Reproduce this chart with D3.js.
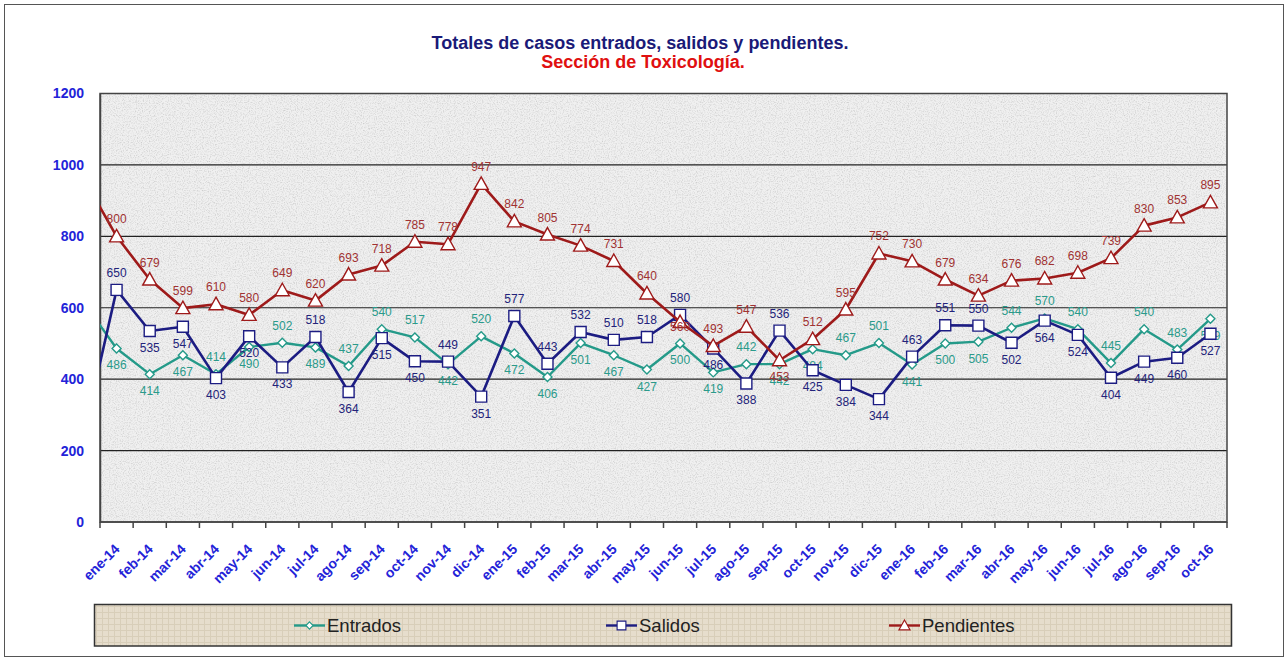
<!doctype html>
<html>
<head>
<meta charset="utf-8">
<style>
    body { margin: 0; background: #fff; }
    text { font-family: "Liberation Sans", Arial, sans-serif; }
    .ylab, .xlab { fill: #2323d8; font-weight: bold; }
</style>
<script src="https://d3js.org/d3.v7.min.js"></script>
</head>
<body>
<svg width="1286" height="661"></svg>
<script>
// months shown on the axis; "dic-13" is the lead-in point that is cut by the plot edge
var leadMonth = "dic-13";
var months = ["ene-14","feb-14","mar-14","abr-14","may-14","jun-14","jul-14","ago-14","sep-14","oct-14","nov-14","dic-14",
              "ene-15","feb-15","mar-15","abr-15","may-15","jun-15","jul-15","ago-15","sep-15","oct-15","nov-15","dic-15",
              "ene-16","feb-16","mar-16","abr-16","may-16","jun-16","jul-16","ago-16","sep-16","oct-16"];

// first value of each series belongs to dic-13
var entrados = [616, 486,414,467,414,490,502,489,437,540,517,442,520,
                472,406,501,467,427,500,419,442,442,484,467,501,
                441,500,505,544,570,540,445,540,483,569];
var salidos = [240, 650,535,547,403,520,433,518,364,515,450,449,351,
               577,443,532,510,518,580,486,388,536,425,384,344,
               463,551,550,502,564,524,404,449,460,527];
var pendientes = [964, 800,679,599,610,580,649,620,693,718,785,778,947,
                  842,805,774,731,640,560,493,547,453,512,595,752,
                  730,679,634,676,682,698,739,830,853,895];

var yTicks = [0, 200, 400, 600, 800, 1000, 1200];

// label side for each visible point: 1 = above, -1 = below
var sideEntrados = [-1,-1,-1,1,-1,1,-1,1,1,1,-1,1, -1,-1,-1,-1,-1,-1,-1,1,-1,-1,1,1, -1,-1,-1,1,1,1,1,1,1,-1];
var sideSalidos  = [1,-1,-1,-1,-1,-1,1,-1,-1,-1,1,-1, 1,1,1,1,1,1,-1,-1,1,-1,-1,-1, 1,1,1,-1,-1,-1,-1,-1,-1,-1];
var sidePend     = [1,1,1,1,1,1,1,1,1,1,1,1, 1,1,1,1,1,-0.3,1,1,-1,1,1,1, 1,1,1,1,1,1,1,1,1,1];

var svg = d3.select("svg");
var pLeft = 100, pRight = 1227, pTop = 93.5, pBottom = 522;

var defs = svg.append("defs");
// granite look for the plot area
var f1 = defs.append("filter").attr("id", "granite").attr("x", 0).attr("y", 0).attr("width", 1).attr("height", 1);
f1.append("feTurbulence").attr("type", "fractalNoise").attr("baseFrequency", 0.85).attr("numOctaves", 2).attr("seed", 3).attr("result", "n");
f1.append("feColorMatrix").attr("type", "matrix")
  .attr("values", "0 0 0 0 0.62  0 0 0 0 0.62  0 0 0 0 0.62  0 0 0 -2.2 1.25").attr("result", "g");
f1.append("feComposite").attr("in", "g").attr("in2", "SourceGraphic").attr("operator", "atop");
// canvas look for the legend
var pat = defs.append("pattern").attr("id", "canvas").attr("patternUnits", "userSpaceOnUse").attr("width", 6).attr("height", 6);
pat.append("rect").attr("width", 6).attr("height", 6).attr("fill", "#e6ddcc");
pat.append("path").attr("d", "M0 0.5H6M0.5 0V6").attr("stroke", "#d8ceb9").attr("stroke-width", 1);
defs.append("clipPath").attr("id", "plotclip").append("rect")
    .attr("x", pLeft).attr("y", pTop - 20).attr("width", pRight - pLeft).attr("height", pBottom - pTop + 40);

// outer frame
svg.append("rect").attr("x", 4.5).attr("y", 4.5).attr("width", 1279).attr("height", 652)
   .attr("fill", "#fff").attr("stroke", "#555").attr("stroke-width", 1);

// titles
svg.append("text").attr("x", 640).attr("y", 49).attr("text-anchor", "middle")
   .attr("font-size", 18).attr("font-weight", "bold").attr("fill", "#1a1a78")
   .text("Totales de casos entrados, salidos y pendientes.");
svg.append("text").attr("x", 643).attr("y", 68).attr("text-anchor", "middle")
   .attr("font-size", 18).attr("font-weight", "bold").attr("fill", "#e01010")
   .text("Sección de Toxicología.");

var x = d3.scaleBand().domain(months).range([pLeft, pRight]);
var y = d3.scaleLinear().domain([0, 1200]).range([pBottom, pTop]);
var step = x.step();
function xAt(i) {
    // i = index into the series arrays (0 is the lead-in month)
    if (i === 0) return x(months[0]) + step / 2 - step;
    return x(months[i - 1]) + step / 2;
}

// plot background
svg.append("rect").attr("x", pLeft).attr("y", pTop).attr("width", pRight - pLeft).attr("height", pBottom - pTop)
   .attr("fill", "#f0f0f0").attr("filter", "url(#granite)");

// gridlines
svg.append("g").selectAll("line").data(yTicks.filter(function(d) { return d > 0; })).enter().append("line")
   .attr("x1", pLeft).attr("x2", pRight)
   .attr("y1", function(d) { return y(d); }).attr("y2", function(d) { return y(d); })
   .attr("stroke", "#222").attr("stroke-width", 1.2);

svg.append("rect").attr("x", pLeft).attr("y", pTop).attr("width", pRight - pLeft).attr("height", pBottom - pTop)
   .attr("fill", "none").attr("stroke", "#444").attr("stroke-width", 1.5);

// y axis
var yAxis = svg.append("g").attr("transform", "translate(" + pLeft + ",0)")
   .call(d3.axisLeft(y).tickValues(yTicks).tickFormat(d3.format("d")).tickSize(0).tickPadding(16));
yAxis.select(".domain").attr("stroke", "#444").attr("stroke-width", 1.5);
yAxis.selectAll("text").attr("class", "ylab").attr("font-size", 14).attr("font-family", "Liberation Sans, Arial, sans-serif");

// x axis ticks at category boundaries
var bounds = months.map(function(m) { return x(m); }).concat([pRight]);
svg.append("g").selectAll("line").data(bounds).enter().append("line")
   .attr("x1", function(d) { return d; }).attr("x2", function(d) { return d; })
   .attr("y1", pBottom).attr("y2", pBottom + 6).attr("stroke", "#444").attr("stroke-width", 1.5);
svg.append("line").attr("x1", pLeft).attr("x2", pRight).attr("y1", pBottom).attr("y2", pBottom)
   .attr("stroke", "#444").attr("stroke-width", 1.5);
svg.append("g").selectAll("text").data(months).enter().append("text")
   .attr("class", "xlab").attr("font-size", 14).attr("text-anchor", "end")
   .attr("transform", function(d) { return "translate(" + (x(d) + step / 2 + 4) + "," + (pBottom + 28) + ") rotate(-45)"; })
   .text(function(d) { return d; });

var series = [
    { name: "Entrados", values: entrados, side: sideEntrados, color: "#249a89", label: "#2a9a8a", marker: "diamond", width: 2.4 },
    { name: "Salidos", values: salidos, side: sideSalidos, color: "#1c1c82", label: "#23237a", marker: "square", width: 2.6 },
    { name: "Pendientes", values: pendientes, side: sidePend, color: "#9e1a1a", label: "#a03232", marker: "triangle", width: 2.6 }
];

function markerPath(type) {
    if (type === "square") return "M-5.5,-5.5H5.5V5.5H-5.5Z";
    if (type === "triangle") return "M0,-7L7,5.5H-7Z";
    return "M0,-4.5L4.5,0L0,4.5L-4.5,0Z";
}

var line = d3.line().x(function(d, i) { return xAt(i); }).y(function(d) { return y(d); });

series.forEach(function(s) {
    var g = svg.append("g");
    g.append("path").datum(s.values).attr("d", line).attr("clip-path", "url(#plotclip)")
     .attr("fill", "none").attr("stroke", s.color).attr("stroke-width", s.width).attr("stroke-linejoin", "round");
    var pts = s.values.slice(1);
    g.selectAll("path.mk").data(pts).enter().append("path").attr("class", "mk")
     .attr("transform", function(d, i) { return "translate(" + xAt(i + 1) + "," + y(d) + ")"; })
     .attr("d", markerPath(s.marker))
     .attr("fill", "#fff").attr("stroke", s.color).attr("stroke-width", 1.4);
    g.selectAll("text").data(pts).enter().append("text")
     .attr("x", function(d, i) { return xAt(i + 1); })
     .attr("y", function(d, i) { return y(d) - s.side[i] * 17 + 4; })
     .attr("text-anchor", "middle").attr("font-size", 12).attr("fill", s.label)
     .text(function(d) { return d; });
});

// legend
svg.append("rect").attr("x", 94.5).attr("y", 604.5).attr("width", 1137).attr("height", 41.5)
   .attr("fill", "url(#canvas)").attr("stroke", "#333").attr("stroke-width", 1.5);
var legX = [294, 606, 889];
series.forEach(function(s, i) {
    var lg = svg.append("g").attr("transform", "translate(" + legX[i] + ",625.5)");
    lg.append("line").attr("x1", 0).attr("x2", 31).attr("stroke", s.color).attr("stroke-width", 2.4);
    lg.append("path").attr("transform", "translate(15.5,0) scale(0.8)").attr("d", markerPath(s.marker))
      .attr("fill", "#fff").attr("stroke", s.color).attr("stroke-width", 1.4);
    lg.append("text").attr("x", 33).attr("y", 6.5).attr("font-size", 18.5).attr("fill", "#222").text(s.name);
});
</script>
</body>
</html>
